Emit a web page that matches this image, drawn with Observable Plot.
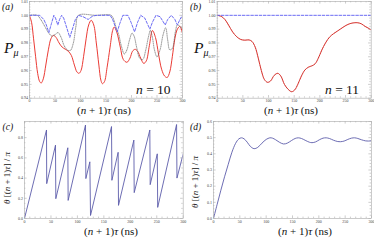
<!DOCTYPE html>
<html><head><meta charset="utf-8">
<script src="https://cdn.jsdelivr.net/npm/d3@7"></script>
<script src="https://cdn.jsdelivr.net/npm/@observablehq/plot@0.6"></script>
<style>
body{margin:0;background:#fff;}
#wrap{position:relative;width:374px;height:240px;overflow:hidden;background:#fff;}
.pan{position:absolute;}
#ov{position:absolute;left:0;top:0;pointer-events:none;}
#ov text{font-family:"Liberation Serif","DejaVu Serif",serif;}
</style></head><body><div id="wrap"></div>
<script>
// ---------- data ----------
const xTicks = [0, 50, 100, 150, 200, 250, 300];
const pTicks = [0.94, 0.95, 0.96, 0.97, 0.98, 0.99, 1.00, 1.01];
const cTicks = [0.0, 0.2, 0.4, 0.6, 0.8];
const dTicks = [0.0, 0.1, 0.2, 0.3, 0.4, 0.5, 0.6];

// panel (a), n = 10 : red solid
const aRedT = [0,4,8,12,16,20,23,27,32,37,42,47,52,58,64,70,76,82,88,93,97,101,106,111,116,121,126,131,136,140,143,147,152,158,163,166,171,178,184,191,197,202,207,212,218,224,229,235,241,247,253,259,265,270,275,280,285,290,295,300];
const aRedP = [1.000,0.995,0.983,0.970,0.958,0.952,0.951,0.954,0.964,0.975,0.983,0.9855,0.984,0.980,0.977,0.9755,0.974,0.971,0.964,0.959,0.958,0.960,0.970,0.983,0.993,0.9964,0.993,0.980,0.964,0.953,0.9505,0.952,0.962,0.977,0.989,0.9915,0.988,0.977,0.968,0.966,0.969,0.974,0.9754,0.974,0.969,0.9652,0.967,0.978,0.989,0.984,0.972,0.961,0.956,0.955,0.959,0.970,0.983,0.990,0.992,0.987];
// panel (a): blue dashed
const aBlueT = [0,20,28,33,38,43,47.7,51,55.5,59,63,67,73,79,85,90,96,105,115,124,132,158,163,168,172,177,183,193,199,206,212,218,226,231,236,241,248,256,261,266,271,278,285,290,295,300];
const aBlueP = [1.0,1.0,0.997,0.993,0.9875,0.994,1.0,0.998,0.993,0.997,1.0,0.998,0.991,0.984,0.991,0.997,1.0,0.999,0.997,0.9995,1.0,1.0,0.997,0.992,0.988,0.994,1.0,1.0,0.995,0.988,0.995,1.0,0.998,0.994,0.990,0.995,1.0,0.999,0.996,0.993,0.997,1.0,0.997,0.993,0.997,1.0];
// panel (a): grey dotted
const aGreyT = [0,15,22,30,38,44,50,56,62,68,74,80,86,91,96,130,160,165,170,175,180,186,191,196,201,205,210,216,222,228,233,237,241,245,250,256,262,267,271,275,280,286,290,295,300];
const aGreyP = [1.0,1.0,0.997,0.992,0.987,0.985,0.986,0.9875,0.984,0.978,0.975,0.9745,0.980,0.992,1.0,1.0,1.0,0.997,0.991,0.986,0.978,0.972,0.975,0.982,0.987,0.985,0.977,0.969,0.968,0.975,0.984,0.989,0.984,0.975,0.970,0.975,0.986,0.991,0.982,0.975,0.976,0.988,0.993,0.992,0.990];

// panel (b), n = 11 : red solid (grey dotted coincides with it)
const bRedT = [0,8,15,22,30,38,46,54,62,68,74,80,86,92,98,104,111,118,124,131,138,145,151,157,164,171,178,185,191,197,204,211,219,227,235,243,251,259,267,274,281,288,294,300];
const bRedP = [1.0,0.9992,0.997,0.993,0.988,0.9845,0.9825,0.982,0.9822,0.981,0.977,0.969,0.960,0.9535,0.9515,0.9525,0.9565,0.958,0.956,0.950,0.9465,0.9447,0.946,0.950,0.956,0.9605,0.9625,0.9635,0.965,0.969,0.975,0.980,0.9843,0.9868,0.9888,0.9908,0.9927,0.994,0.9946,0.9946,0.9938,0.992,0.9908,0.9893];
// panel (b): blue dashed
const bBlueT = [0, 300];
const bBlueP = [1.0, 1.0];

// panel (c): sawtooth theta/pi
const cT = [0,41.6,42.0,58.6,59.2,81.9,82.5,115.3,116.0,123.5,124.8,164.5,165.2,177.0,177.7,206.7,207.4,236.9,237.6,251.0,251.8,287.5,288.2,300];
const cV = [0,0.876,0.345,0.726,0.196,0.700,0.179,0.925,0.395,0.561,0.030,0.910,0.378,0.655,0.130,0.776,0.256,0.876,0.335,0.640,0.110,0.930,0.400,0.640];

// panel (d): theta/pi
const dT = [0,7,14,21,28,35,42,48,53,58,64,70,77,84,92,100,107,112,118,125,133,140,148,155,161,167,174,182,187,194,201,208,214,220,228,236,241,248,255,262,268,274,281,289,294,300];
const dV = [0,0.088,0.175,0.258,0.335,0.41,0.465,0.492,0.499,0.493,0.472,0.446,0.432,0.440,0.466,0.489,0.499,0.497,0.487,0.472,0.461,0.466,0.482,0.495,0.499,0.495,0.484,0.472,0.469,0.474,0.487,0.497,0.499,0.495,0.484,0.476,0.475,0.479,0.489,0.497,0.499,0.495,0.487,0.480,0.479,0.481];

// ---------- drawing ----------
const W = 187, H = 120;
const frameCol = "#b4b4b4", tickCol = "#9a9a9a";

function lineOf(T, V, opts) {
  return Plot.line({length: T.length}, Object.assign({x: T, y: V, clip: true}, opts));
}

function panel(o) {
  const fh = H - o.mt - o.mb, fw = W - o.ml - o.mr;
  const xMinor = d3.range(0, 301, 10).filter(v => v % 50 !== 0);
  const [y0, y1] = o.yDomain;
  const yMinor = d3.range(Math.ceil(y0 / o.yMinorStep - 1e-9), Math.floor(y1 / o.yMinorStep + 1e-9) + 1)
    .map(k => +(k * o.yMinorStep).toFixed(4))
    .filter(v => !o.yTicks.some(t => Math.abs(t - v) < 1e-6));
  const tk = {stroke: tickCol, strokeWidth: 0.5};
  const chart = Plot.plot({
    width: W, height: H,
    marginLeft: o.ml, marginRight: o.mr, marginTop: o.mt, marginBottom: o.mb,
    x: {domain: [0, 300]},
    y: {domain: o.yDomain},
    style: {fontFamily: "Liberation Serif, DejaVu Serif, serif", fontSize: "4px", color: "#444", background: "transparent"},
    marks: [
      Plot.ruleX(xTicks, {...tk, insetTop: fh - 2.6}),
      Plot.ruleX(xTicks, {...tk, insetBottom: fh - 2.6}),
      Plot.ruleX(xMinor, {...tk, insetTop: fh - 1.4}),
      Plot.ruleX(xMinor, {...tk, insetBottom: fh - 1.4}),
      Plot.ruleY(o.yTicks, {...tk, insetRight: fw - 2.6}),
      Plot.ruleY(o.yTicks, {...tk, insetLeft: fw - 2.6}),
      Plot.ruleY(yMinor, {...tk, insetRight: fw - 1.4}),
      Plot.ruleY(yMinor, {...tk, insetLeft: fw - 1.4}),
      Plot.axisX(xTicks, {tickSize: 0, tickPadding: 1.2, label: null, fontSize: 4, tickFormat: d => String(d)}),
      Plot.axisY(o.yTicks, {tickSize: 0, tickPadding: 1.6, label: null, fontSize: 4, tickFormat: d3.format(o.yFmt)}),
      ...o.lines,
      Plot.frame({stroke: frameCol, strokeWidth: 0.7})
    ]
  });
  chart.classList.add("pan");
  chart.style.left = o.left + "px";
  chart.style.top = o.top + "px";
  document.getElementById("wrap").appendChild(chart);
}

const red = {stroke: "#ea3b35", strokeWidth: 1.0, curve: "catmull-rom"};
const blue = {stroke: "#6464f2", strokeWidth: 0.95, strokeDasharray: "2.6,1.6", curve: "linear"};
const grey = {stroke: "#5e5e5e", strokeWidth: 0.7, strokeDasharray: "0.6,1.2", curve: "catmull-rom"};
const greyOnRed = {stroke: "#7a2020", strokeWidth: 0.5, strokeDasharray: "0.5,1.6", strokeOpacity: 0.6, curve: "catmull-rom"};
const purple = {stroke: "#5c5caa", strokeWidth: 0.9};

panel({left: 0, top: 0, ml: 29, mr: 5, mt: 1, mb: 22.3, yDomain: [0.94, 1.01], yTicks: pTicks, yFmt: ".2f", yMinorStep: 0.002,
  lines: [lineOf(aRedT, aRedP, red), lineOf(aGreyT, aGreyP, grey), lineOf(aBlueT, aBlueP, blue)]});
panel({left: 187, top: 0, ml: 29.7, mr: 3.3, mt: 1, mb: 22.3, yDomain: [0.94, 1.01], yTicks: pTicks, yFmt: ".2f", yMinorStep: 0.002,
  lines: [lineOf(bRedT, bRedP, red), lineOf(bRedT, bRedP, greyOnRed), lineOf(bBlueT, bBlueP, blue)]});
panel({left: 0, top: 120, ml: 24, mr: 4.3, mt: 1, mb: 22, yDomain: [0, 0.96], yTicks: cTicks, yFmt: ".1f", yMinorStep: 0.05,
  lines: [lineOf(cT, cV, {...purple, curve: "linear"})]});
panel({left: 187, top: 120, ml: 26, mr: 3, mt: 1, mb: 22, yDomain: [0, 0.6], yTicks: dTicks, yFmt: ".1f", yMinorStep: 0.02,
  lines: [lineOf(dT, dV, {...purple, curve: "catmull-rom"})]});

// ---------- text overlay (titles, labels) ----------
const ov = d3.select("#wrap").append("svg").attr("id", "ov").attr("width", 374).attr("height", 240)
  .attr("font-family", "Liberation Serif, DejaVu Serif, serif").style("fill", "#111");

function addText(x, y, parts, size, anchor, rot) {
  const t = ov.append("text").attr("x", x).attr("y", y).attr("font-size", size)
    .attr("text-anchor", anchor || "start");
  if (rot) t.attr("transform", `rotate(${rot},${x},${y})`);
  parts.forEach(([s, it, dy, sz]) => {
    const sp = t.append("tspan").text(s).attr("font-style", it ? "italic" : "normal");
    if (dy) sp.attr("dy", dy);
    if (sz) sp.attr("font-size", sz);
  });
}
const xTitle = [["(", 0], ["n", 1], [" + 1)", 0], ["τ", 1], [" (ns)", 0]];
const yTitle = [["θ", 1], [" [(", 0], ["n", 1], [" + 1)", 0], ["τ", 1], ["] / ", 0], ["π", 1]];
const pTitle = [["P", 1], ["μ", 1, 3, 10]];

addText(2, 9.5, [["(a)", 1]], 9.5);
addText(190, 9.5, [["(b)", 1]], 9.5);
addText(2.5, 129.5, [["(c)", 1]], 9.5);
addText(190, 129.5, [["(d)", 1]], 9.5);

addText(4, 53, pTitle, 15.5);
addText(194, 53, pTitle, 15.5);

addText(136, 94, [["n", 1], [" = 10", 0]], 13.5);
addText(325, 94, [["n", 1], [" = 11", 0]], 13.5);

addText(104, 113.5, xTitle, 11, "middle");
addText(291, 113.5, xTitle, 11, "middle");
addText(111, 234.5, xTitle, 11, "middle");
addText(305, 234.5, xTitle, 11, "middle");

addText(10, 178, yTitle, 9, "middle", -90);
addText(198, 182, yTitle, 9, "middle", -90);
</script>
</body></html>
